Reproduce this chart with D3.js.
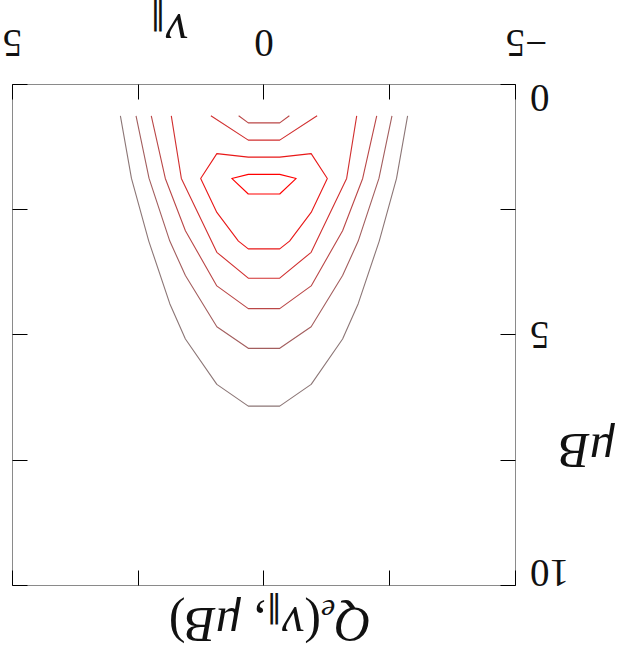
<!DOCTYPE html>
<html>
<head>
<meta charset="utf-8">
<script src="https://cdn.jsdelivr.net/npm/d3@7"></script>
<style>
  body { margin: 0; background: #fff; }
  svg { display: block; }
  text { font-family: "Liberation Serif", "DejaVu Serif", serif; fill: #111; }
</style>
</head>
<body>
<svg id="chart" width="618" height="655"></svg>
<script>
// ---- axis ticks ----
const vTickLabels = [-5, 0, 5];
const muTickLabels = [0, 5, 10];
const vTickMarks = [-5, -2.5, 0, 2.5, 5];
const muTickMarks = [0, 2.5, 5, 7.5, 10];

// ---- contour levels of Q_e, lowest (1) to highest (6) ----
const contourLevels = [1, 2, 3, 4, 5, 6];

// each contour is a list of [v_par, muB] vertices
const contourL1 = [[2.855,0.625],[2.635,1.875],[2.291,3.125],[1.873,4.375],[1.5625,5.08],[0.9375,5.986],[0.3125,6.42],
                   [-0.3125,6.42],[-0.9375,5.986],[-1.5625,5.08],[-1.873,4.375],[-2.291,3.125],[-2.635,1.875],[-2.855,0.625]];
const contourL2 = [[2.544,0.625],[2.285,1.875],[1.873,3.125],[1.5625,3.814],[0.9375,4.834],[0.3125,5.266],
                   [-0.3125,5.266],[-0.9375,4.834],[-1.5625,3.814],[-1.873,3.125],[-2.285,1.875],[-2.544,0.625]];
const contourL3 = [[2.241,0.625],[1.962,1.875],[1.5625,2.92],[0.9375,4.02],[0.3125,4.474],
                   [-0.3125,4.474],[-0.9375,4.02],[-1.5625,2.92],[-1.962,1.875],[-2.241,0.625]];
const contourL3top = [[0.504,0.625],[0.3125,0.766],[-0.3125,0.766],[-0.504,0.625]];
const contourL4 = [[1.843,0.625],[1.643,1.875],[0.9375,3.35],[0.3125,3.866],
                   [-0.3125,3.866],[-0.9375,3.35],[-1.643,1.875],[-1.843,0.625]];
const contourL4top = [[1.056,0.625],[0.3125,1.11],[-0.3125,1.11],[-1.056,0.625]];
const contourL5 = [[0.9375,1.38],[0.3125,1.45],[-0.3125,1.45],[-0.9375,1.38],[-1.259,1.875],[-0.9375,2.554],
                   [-0.508,3.125],[-0.3125,3.28],[0.3125,3.28],[0.508,3.125],[0.9375,2.554],[1.259,1.875]];
const contourL6 = [[0.641,1.875],[0.3125,1.794],[-0.3125,1.794],[-0.641,1.875],[-0.3125,2.186],[0.3125,2.186]];

const contours = [
  { level: contourLevels[0], points: contourL1,    closed: false },
  { level: contourLevels[1], points: contourL2,    closed: false },
  { level: contourLevels[2], points: contourL3,    closed: false },
  { level: contourLevels[2], points: contourL3top, closed: false },
  { level: contourLevels[3], points: contourL4,    closed: false },
  { level: contourLevels[3], points: contourL4top, closed: false },
  { level: contourLevels[4], points: contourL5,    closed: true  },
  { level: contourLevels[5], points: contourL6,    closed: true  }
];

// ---- drawing ----
const W = 618, H = 655;
const svg = d3.select("#chart");
// the whole figure is laid out normally and then turned half a revolution
const g = svg.append("g").attr("transform", `rotate(180 ${W / 2} ${H / 2})`);

const x = d3.scaleLinear().domain([-5, 5]).range([102.5, 605.5]);
const y = d3.scaleLinear().domain([0, 10]).range([570.5, 69.5]);
const color = d3.scaleLinear().domain(d3.extent(contourLevels)).range(["#8c7676", "#ff0000"]);
const line = d3.line().x(d => x(d[0])).y(d => y(d[1]));
const snap = v => Math.round(v - 0.5) + 0.5;

// contour lines
g.append("g").selectAll("path").data(contours).join("path")
  .attr("d", c => line(c.points) + (c.closed ? "Z" : ""))
  .attr("fill", "none")
  .attr("stroke", c => color(c.level))
  .attr("stroke-width", 1.1)
  .attr("stroke-linejoin", "round");

// frame
g.append("rect")
  .attr("x", x(-5)).attr("y", y(10))
  .attr("width", x(5) - x(-5)).attr("height", y(0) - y(10))
  .attr("fill", "none").attr("stroke", "#8a8a8a").attr("stroke-width", 1);

// inward tick marks on all four sides
const TL = 15;
const ticks = g.append("g").attr("stroke", "#000").attr("stroke-width", 1);
vTickMarks.forEach(v => {
  const px = snap(x(v));
  ticks.append("line").attr("x1", px).attr("x2", px).attr("y1", y(0)).attr("y2", y(0) - TL);
  ticks.append("line").attr("x1", px).attr("x2", px).attr("y1", y(10)).attr("y2", y(10) + TL);
});
muTickMarks.forEach(m => {
  const py = snap(y(m));
  ticks.append("line").attr("y1", py).attr("y2", py).attr("x1", x(-5)).attr("x2", x(-5) + TL);
  ticks.append("line").attr("y1", py).attr("y2", py).attr("x1", x(5)).attr("x2", x(5) - TL);
});

// tick labels
const FS = 39;
const probe = g.append("text").style("font-size", FS + "px").text("0");
const digitW = probe.node().getComputedTextLength();
probe.remove();
const digitH = 0.66 * FS;

g.append("g").selectAll("text").data(vTickLabels).join("text")
  .style("font-size", FS + "px")
  .attr("text-anchor", "end")
  .attr("x", v => x(v) + digitW / 2)
  .attr("y", 625)
  .text(v => v < 0 ? "\u2212" + Math.abs(v) : String(v));

g.append("g").selectAll("text").data(muTickLabels).join("text")
  .style("font-size", FS + "px")
  .attr("text-anchor", "end")
  .attr("x", 88)
  .attr("y", m => Math.max(y(10) + digitH, Math.min(y(0), y(m) + digitH / 2)))
  .text(m => String(m));

// axis titles
const LFS = 50;
const SFS = 32;
const vt = g.append("text").style("font-size", LFS + "px").attr("x", 430).attr("y", 640);
vt.append("tspan").style("font-style", "italic").text("v");
vt.append("tspan").attr("dy", 8).style("font-size", SFS + "px").style("font-family", "DejaVu Sans").text("\u2225");

const mt = g.append("text").style("font-size", LFS + "px").attr("x", 3).attr("y", 221);
mt.append("tspan").style("font-style", "italic").text("\u03bcB");

const tt = g.append("text").style("font-size", LFS + "px").attr("x", 348).attr("y", 47).attr("text-anchor", "middle");
tt.append("tspan").style("font-style", "italic").text("Q");
tt.append("tspan").attr("dy", 8).style("font-size", SFS + "px").style("font-style", "italic").text("e");
tt.append("tspan").attr("dy", -8).text("(");
tt.append("tspan").style("font-style", "italic").text("v");
tt.append("tspan").attr("dy", 8).style("font-size", SFS + "px").style("font-family", "DejaVu Sans").text("\u2225");
tt.append("tspan").attr("dy", -8).text(", ");
tt.append("tspan").style("font-style", "italic").text("\u03bcB");
tt.append("tspan").text(")");
</script>
</body>
</html>
